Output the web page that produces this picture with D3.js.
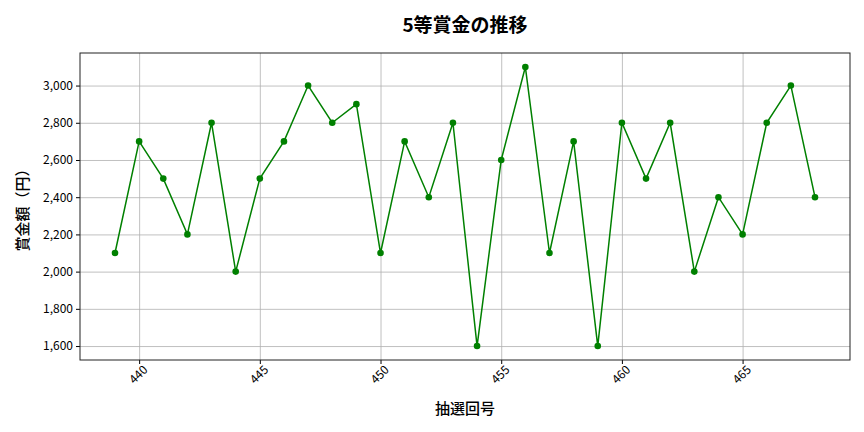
<!DOCTYPE html>
<html>
<head>
<meta charset="utf-8">
<script src="https://cdn.jsdelivr.net/npm/d3@7"></script>
<style>
  body { margin: 0; background: #fff; }
  svg, svg text { font-family: "Noto Sans CJK JP", "Noto Sans", sans-serif; }
  .grid line { stroke: #b0b0b0; stroke-width: 0.8; }
  .grid path { display: none; }
</style>
</head>
<body>
<div id="chart"></div>
<script>
// 抽選回号 and 5等 prize amounts
var draws = [439, 440, 441, 442, 443, 444, 445, 446, 447, 448,
             449, 450, 451, 452, 453, 454, 455, 456, 457, 458,
             459, 460, 461, 462, 463, 464, 465, 466, 467, 468];
var prizes = [2100, 2700, 2500, 2200, 2800, 2000, 2500, 2700, 3000, 2800,
              2900, 2100, 2700, 2400, 2800, 1600, 2600, 3100, 2100, 2700,
              1600, 2800, 2500, 2800, 2000, 2400, 2200, 2800, 3000, 2400];
var xTicks = [440, 445, 450, 455, 460, 465];
var yTicks = [1600, 1800, 2000, 2200, 2400, 2600, 2800, 3000];

var data = draws.map(function(d, i) { return { draw: d, prize: prizes[i] }; });

var W = 864, H = 432;
var margin = {top: 53, right: 14, bottom: 72, left: 80},
    width = W - margin.left - margin.right,
    height = H - margin.top - margin.bottom;

var svg = d3.select("#chart").append("svg")
    .attr("width", W)
    .attr("height", H);

var g = svg.append("g")
    .attr("transform", "translate(" + margin.left + "," + margin.top + ")");

// matplotlib-style 5% padding
var xMin = d3.min(draws), xMax = d3.max(draws), xPad = (xMax - xMin) * 0.05;
var yMin = d3.min(prizes), yMax = d3.max(prizes), yPad = (yMax - yMin) * 0.05;

var x = d3.scaleLinear().domain([xMin - xPad, xMax + xPad]).range([0, width]);
var y = d3.scaleLinear().domain([yMin - yPad, yMax + yPad]).range([height, 0]);

// gridlines
g.append("g").attr("class", "grid")
  .attr("transform", "translate(0," + height + ")")
  .call(d3.axisBottom(x).tickValues(xTicks).tickSize(-height).tickFormat(""));
g.append("g").attr("class", "grid")
  .call(d3.axisLeft(y).tickValues(yTicks).tickSize(-width).tickFormat(""));

// axes
var xAxis = g.append("g")
  .attr("transform", "translate(0," + height + ")")
  .call(d3.axisBottom(x).tickValues(xTicks).tickSize(4).tickPadding(3).tickFormat(d3.format("d")));
xAxis.attr("font-family", null).attr("font-size", null);
xAxis.select(".domain").remove();
xAxis.selectAll("text")
  .style("font-size", "12px")
  .attr("fill", "#000")
  .attr("text-anchor", "end")
  .attr("dx", "-0.1em")
  .attr("dy", "0.55em")
  .attr("transform", "rotate(-45)");

var yAxis = g.append("g")
  .call(d3.axisLeft(y).tickValues(yTicks).tickSize(4).tickPadding(3).tickFormat(d3.format(",")));
yAxis.attr("font-family", null).attr("font-size", null);
yAxis.select(".domain").remove();
yAxis.selectAll("text").style("font-size", "12px").attr("fill", "#000");

// frame
g.append("rect")
  .attr("width", width).attr("height", height)
  .attr("fill", "none").attr("stroke", "#222").attr("stroke-width", 1);

// line + markers
var line = d3.line()
  .x(function(d) { return x(d.draw); })
  .y(function(d) { return y(d.prize); });

g.append("path")
  .datum(data)
  .attr("fill", "none")
  .attr("stroke", "green")
  .attr("stroke-width", 1.5)
  .attr("d", line);

g.selectAll(".dot").data(data).enter().append("circle")
  .attr("class", "dot")
  .attr("cx", function(d) { return x(d.draw); })
  .attr("cy", function(d) { return y(d.prize); })
  .attr("r", 3.3)
  .attr("fill", "green");

// title and labels
svg.append("text")
  .attr("x", margin.left + width / 2)
  .attr("y", 32)
  .attr("text-anchor", "middle")
  .style("font-size", "19px")
  .style("font-weight", "bold")
  .text("5等賞金の推移");

svg.append("text")
  .attr("x", margin.left + width / 2)
  .attr("y", 414)
  .attr("text-anchor", "middle")
  .style("font-size", "15px")
  .style("font-weight", "500")
  .text("抽選回号");

svg.append("text")
  .attr("transform", "rotate(-90)")
  .attr("x", -(margin.top + height / 2))
  .attr("y", 28)
  .attr("text-anchor", "middle")
  .style("font-size", "15px")
  .style("font-weight", "500")
  .text("賞金額（円）");
</script>
</body>
</html>
